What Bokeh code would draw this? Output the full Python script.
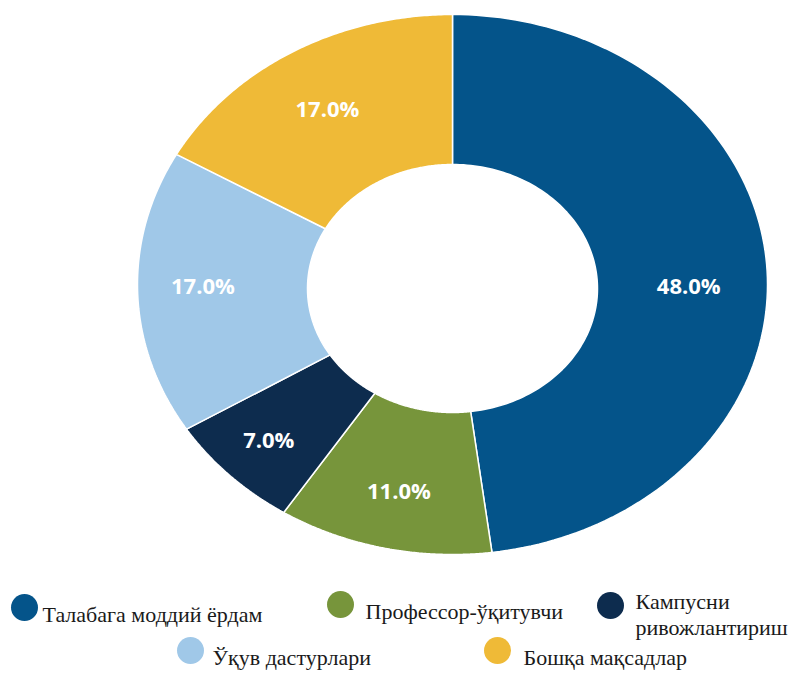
import numpy as np
from bokeh.plotting import figure
from bokeh.models import Range1d, ColumnDataSource
from bokeh.core.properties import value
from bokeh.embed import file_html
from bokeh.resources import INLINE

# ---- data ----
categories = ["Талабага моддий ёрдам", "Профессор-ўқитувчи", "Кампусни ривожлантириш",
              "Ўқув дастурлари", "Бошқа мақсадлар"]
shares = [48.0, 11.0, 7.0, 17.0, 17.0]
colors = ["#04548A", "#77953B", "#0D2C4E", "#A0C8E8", "#EFBA37"]

# ---- layout (pixel space, y downward) ----
W, H = 790, 673
CX, CY = 452, 284
CYI = 288
RX, RY = 315, 270
RXI, RYI = 145, 124
LABEL_FRAC = 0.78
label_nudge = [(-9, 14), (0, 0), (-10, 6), (-4, -6), (0, 5)]

p = figure(width=W, height=H, output_backend="svg", toolbar_location=None,
           x_range=Range1d(0, W), y_range=Range1d(H, 0),
           x_axis_type=None, y_axis_type=None, min_border=0,
           outline_line_color=None)
p.grid.visible = False
p.background_fill_color = "white"
p.border_fill_color = "white"

total = sum(shares)
xs, ys, lx, ly, texts = [], [], [], [], []
cum = 0.0
for i, s in enumerate(shares):
    a0 = 2 * np.pi * cum / total
    a1 = 2 * np.pi * (cum + s) / total
    t = np.linspace(a0, a1, 120)
    ox = CX + RX * np.sin(t)
    oy = CY - RY * np.cos(t)
    ix = CX + RXI * np.sin(t[::-1])
    iy = CYI - RYI * np.cos(t[::-1])
    xs.append(list(np.concatenate([ox, ix])))
    ys.append(list(np.concatenate([oy, iy])))
    am = (a0 + a1) / 2
    lx.append(CX + RX * LABEL_FRAC * np.sin(am) + label_nudge[i][0])
    ly.append(CY - RY * LABEL_FRAC * np.cos(am) + label_nudge[i][1])
    texts.append(f"{s:.1f}%")
    cum += s

src = ColumnDataSource(dict(xs=xs, ys=ys, color=colors))
p.patches("xs", "ys", source=src, fill_color="color", line_color="white", line_width=1.5)

p.text(x=lx, y=ly, text=texts, text_color="white", text_font=value("Open Sans"),
       text_font_style="bold", text_font_size="22px", text_align="center",
       text_baseline="middle")

# ---- legend ----
marker_pos = [(24, 607), (340, 604), (610, 605), (190, 650), (497, 650)]
text_pos = [(42, 614), (365, 611), (635, 614), (212, 657), (523, 657)]
leg_labels = [c.replace(" ", "\n") if i == 2 else c for i, c in enumerate(categories)]
p.scatter(x=[m[0] for m in marker_pos], y=[m[1] for m in marker_pos], size=27,
          marker="circle", fill_color=colors, line_color=None)
p.text(x=[t[0] for t in text_pos], y=[t[1] for t in text_pos], text=leg_labels,
       text_color="#1a1a1a", text_font=value("Liberation Serif"), text_font_size="22px",
       text_align="left", text_baseline="alphabetic", text_line_height=1.05)

open("out.html", "w").write(file_html(p, INLINE))
